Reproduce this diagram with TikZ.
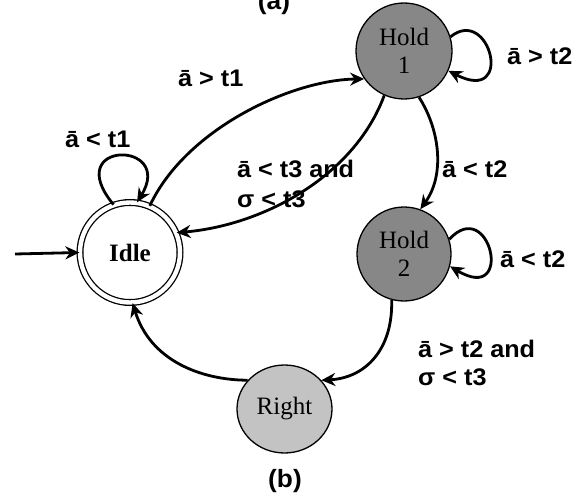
\documentclass[tikz,border=0pt]{standalone}
\usepackage{fontspec}
\usepackage{graphicx}
\setmainfont{Liberation Serif}
\newfontfamily\lblfont{Liberation Sans}
\usetikzlibrary{arrows.meta,shapes.geometric}
\definecolor{holdgray}{HTML}{878787}
\definecolor{rightgray}{HTML}{C3C3C3}
\newcommand{\lbtext}[1]{\scalebox{1.05}[1]{\lblfont\bfseries #1}}
\begin{document}
\begin{tikzpicture}[x=1pt,y=-1pt,
  state/.style={circle,draw,line width=1.3pt,inner sep=0pt,align=center,
    font=\fontsize{25}{28}\selectfont},
  edge/.style={line width=2.8pt,-{Stealth[length=14pt,width=13pt]}},
  lbl/.style={inner sep=0pt,anchor=base west,font=\fontsize{24}{28}\selectfont}]
\useasboundingbox (0,0) rectangle (584,503);
\fill[white] (0,0) rectangle (584,503);

\node[state,double,double distance=4.4pt,minimum size=100pt,font=\fontsize{25}{28}\selectfont\bfseries] (Idle) at (130,252.5) {Idle};
\node[state,fill=holdgray,minimum size=96pt] (Hold1) at (404,51) {Hold\\1};
\node[state,fill=holdgray,minimum size=94pt] (Hold2) at (404,254) {Hold\\2};
\node[state,ellipse,fill=rightgray,minimum width=95pt,minimum height=88pt] (Right) at (284.5,409) {Right};

\coordinate (start) at (15,254);
\draw[edge] (start) -- (Idle.west);

% self loops
\draw[edge] (Idle.109) .. controls (60,140) and (175,140) .. (Idle.82);
\draw[edge] (Hold1.17) .. controls (490,5) and (515,105) .. (Hold1.-24);
\draw[edge] (Hold2.18) .. controls (490,195) and (515,305) .. (Hold2.-15);

% transitions
\draw[edge] (Idle.67) .. controls (185,130) and (290,80) .. (Hold1.215);
\draw[edge] (Hold1.246) .. controls (355,175) and (265,225) .. (Idle.23);
\draw[edge] (Hold1.-72) .. controls (440,130) and (445,175) .. (Hold2.70);
\draw[edge] (Hold2.255) .. controls (393,350) and (365,378) .. (Right.38);
\draw[edge] (Right.142) .. controls (200,380) and (150,360) .. (Idle.-87);

% labels
\node[lbl] (l1) at (65,147) {\lbtext{ā < t1}};
\node[lbl] (l2) at (178,87) {\lbtext{ā > t1}};
\node[lbl] (l3) at (507,65) {\lbtext{ā > t2}};
\node[lbl] (l4) at (442,177) {\lbtext{ā < t2}};
\node[lbl] (l5) at (500,267) {\lbtext{ā < t2}};
\node[lbl] (l6a) at (237,177) {\lbtext{ā < t3 and}};
\node[lbl] (l6b) at (237,207) {\lbtext{σ < t3}};
\node[lbl] (l7a) at (418,357) {\lbtext{ā > t2 and}};
\node[lbl] (l7b) at (418,385) {\lbtext{σ < t3}};
\node[inner sep=0pt,anchor=base,font=\fontsize{25}{28}\selectfont] (capb) at (285,487) {\lbtext{(b)}};
\node[inner sep=0pt,anchor=base,font=\fontsize{25}{28}\selectfont] (capa) at (274,10) {\lbtext{(a)}};
\end{tikzpicture}
\end{document}
